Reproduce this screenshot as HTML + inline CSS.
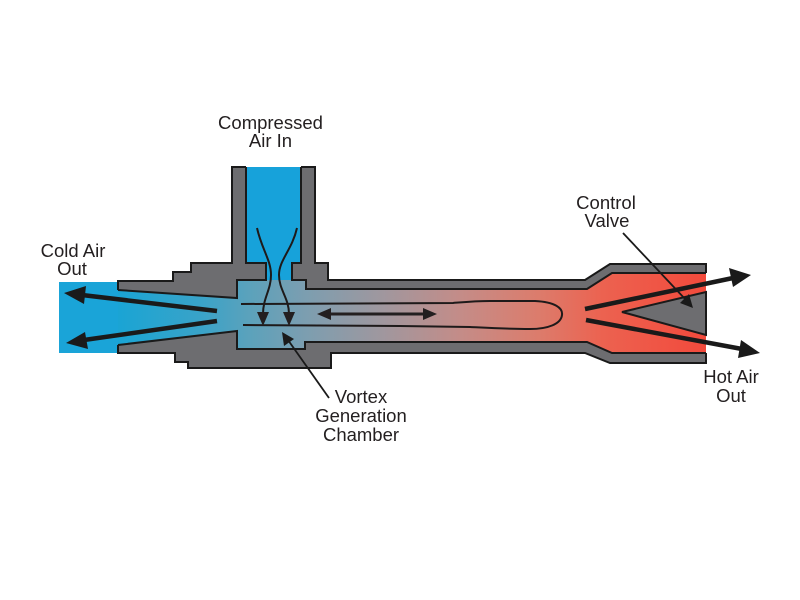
<!DOCTYPE html>
<html><head><meta charset="utf-8"><style>
html,body{margin:0;padding:0;background:#fff;}
svg{display:block;}
text{font-family:"Liberation Sans",Arial,sans-serif;font-size:18.5px;fill:#231f20;}
</style></head><body>
<svg width="800" height="600" viewBox="0 0 800 600" xmlns="http://www.w3.org/2000/svg">
<defs>
<linearGradient id="g" gradientUnits="userSpaceOnUse" x1="60" y1="0" x2="706" y2="0">
<stop offset="0" stop-color="#18a4d8"/>
<stop offset="0.09" stop-color="#1aa4d4"/>
<stop offset="0.22" stop-color="#3aa3c8"/>
<stop offset="0.29" stop-color="#5aa2bc"/>
<stop offset="0.38" stop-color="#7c9eb0"/>
<stop offset="0.50" stop-color="#a0979e"/>
<stop offset="0.62" stop-color="#c48c88"/>
<stop offset="0.74" stop-color="#dc7c6c"/>
<stop offset="0.84" stop-color="#ec6250"/>
<stop offset="1" stop-color="#f24a3c"/>
</linearGradient>
</defs>

<!-- cold outlet blue -->
<rect x="59" y="282" width="62" height="71" fill="#1aa4d8"/>

<!-- gray body -->
<polygon fill="#6d6d70" points="118,281 173,281 173,272 191,272 191,263 232,263 232,167 315,167 315,263 328,263 328,280 585,280 610,264 706,264 706,363 610,363 585,353 331,353 331,368 188,368 188,362 175,362 175,353 118,353"/>

<!-- cavity -->
<polygon fill="url(#g)" points="118,290 237,298 237,280 266,280 266,263 246,263 246,167 301,167 301,263 292,263 292,280 306,280 306,289 587,289 612,273 706,273 706,353 612,353 587,342 305,342 305,349 237,349 237,331 118,345"/>
<!-- stem bright blue -->
<polygon fill="#17a2da" points="246,167 301,167 301,263 292,263 292,280 266,280 266,263 246,263"/>

<!-- control valve cone -->
<polygon fill="#6d6d70" stroke="#1a1a1a" stroke-width="2" stroke-linejoin="miter" points="622,312 706,292 706,335"/>

<!-- outlines -->
<g fill="none" stroke="#1a1a1a" stroke-width="2" stroke-linejoin="miter">
<path d="M118,290 L118,281 L173,281 L173,272 L191,272 L191,263 L232,263 L232,167 L246,167"/>
<path d="M301,167 L315,167 L315,263 L328,263 L328,280 L585,280 L610,264 L706,264 L706,273"/>
<path d="M706,353 L706,363 L610,363 L585,353 L331,353 L331,368 L188,368 L188,362 L175,362 L175,353 L118,353 L118,345"/>
<path d="M118,290 L237,298 L237,280 L266,280 L266,263 L246,263 L246,167"/>
<path d="M301,167 L301,263 L292,263 L292,280 L306,280 L306,289 L587,289 L612,273 L706,273"/>
<path d="M706,353 L612,353 L587,342 L305,342 L305,349 L237,349 L237,331 L118,345"/>
</g>

<!-- vortex loop lines -->
<g fill="none" stroke="#1e1a1a" stroke-width="2">
<path d="M241,304 L453,303 C465,302 475,301 490,301 L535,301 C555,302 563,308 562,315 C561,324 548,329 530,329 C505,329 490,328 470,327 L400,326 L243,325"/>
</g>

<!-- double arrow -->
<g stroke="#231f20" stroke-width="3" fill="#231f20">
<line x1="328" y1="314" x2="426" y2="314"/>
</g>
<polygon fill="#231f20" points="317,314 331,308 331,320"/>
<polygon fill="#231f20" points="437,314 423,308 423,320"/>

<!-- inlet curves -->
<g fill="none" stroke="#1e1a1a" stroke-width="2">
<path d="M257,228 C262,250 271,260 271,275 C271,290 263,298 263,314"/>
<path d="M297,228 C292,250 279,260 279,275 C279,290 289,298 289,314"/>
</g>
<polygon fill="#231f20" points="263,326 257,312 269,312"/>
<polygon fill="#231f20" points="289,326 283,312 295,312"/>

<!-- cold arrows -->
<g stroke="#1a1a1a" stroke-width="4.5" fill="none">
<line x1="217" y1="311" x2="82" y2="295"/>
<line x1="217" y1="321" x2="84" y2="340"/>
</g>
<polygon fill="#1a1a1a" points="64,293 86,286 84,304"/>
<polygon fill="#1a1a1a" points="66,343 85,332 88,349"/>

<!-- hot arrows -->
<g stroke="#1a1a1a" stroke-width="4.5" fill="none">
<line x1="585" y1="309" x2="733" y2="278"/>
<line x1="586" y1="320" x2="742" y2="349"/>
</g>
<polygon fill="#1a1a1a" points="751,275 729,268 733,287"/>
<polygon fill="#1a1a1a" points="760,353 741,340 738,358"/>

<!-- leaders -->
<g stroke="#1a1a1a" stroke-width="1.8" fill="none">
<line x1="329" y1="398" x2="288" y2="340"/>
<line x1="623" y1="233" x2="686" y2="300"/>
</g>
<polygon fill="#1a1a1a" points="282,332 284,346 294,339"/>
<polygon fill="#1a1a1a" points="693,308 680,303 689,294"/>

<!-- labels -->
<text x="270.5" y="129" text-anchor="middle">Compressed</text>
<text x="270.5" y="147" text-anchor="middle">Air In</text>
<text x="73" y="257" text-anchor="middle">Cold Air</text>
<text x="72" y="275" text-anchor="middle">Out</text>
<text x="606" y="209" text-anchor="middle">Control</text>
<text x="607" y="227" text-anchor="middle">Valve</text>
<text x="731" y="383" text-anchor="middle">Hot Air</text>
<text x="731" y="402" text-anchor="middle">Out</text>
<text x="361" y="403" text-anchor="middle">Vortex</text>
<text x="361" y="422" text-anchor="middle">Generation</text>
<text x="361" y="441" text-anchor="middle">Chamber</text>
</svg>
</body></html>
